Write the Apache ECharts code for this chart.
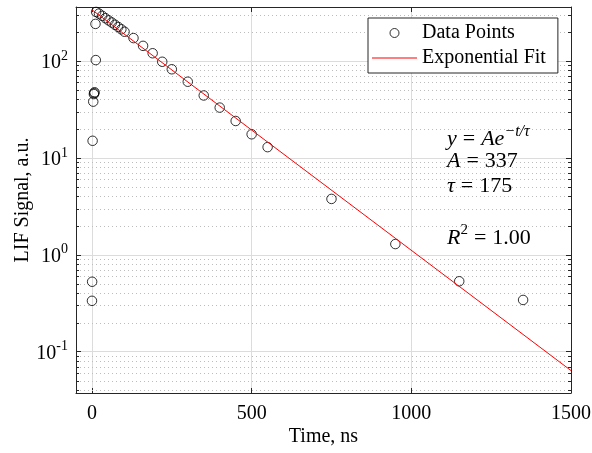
<!DOCTYPE html>
<html>
<head>
<meta charset="utf-8">
<script src="https://cdn.jsdelivr.net/npm/echarts@6/dist/echarts.min.js"></script>
<style>
html,body{margin:0;padding:0;background:#fff;}
#chart{width:592px;height:453px;}
</style>
</head>
<body>
<div id="chart"></div>
<script>
// ---- data ----
const timeNs = [0, 0.5, 2, 4, 6, 7, 8, 12, 11,
  13, 22, 32, 42, 52, 62, 72, 82, 92, 102,
  130, 160, 190, 220, 250, 300, 350, 400, 450, 500, 550, 750, 950, 1150, 1350];
const signal = [0.335, 0.527, 15, 38, 45.5, 46.5, 47.5, 102, 241,
  320, 308, 292, 276, 262, 249, 236, 224, 212, 200,
  172, 143, 120, 98, 82, 61, 44, 33, 24, 17.5, 12.9, 3.77, 1.29, 0.533, 0.342];
const fitT = [0, 1500];
const fitY = [337, 0.0639];
const minorTicks = [0.04, 0.05, 0.06, 0.07, 0.08, 0.09,
  0.2, 0.3, 0.4, 0.5, 0.6, 0.7, 0.8, 0.9,
  2, 3, 4, 5, 6, 7, 8, 9,
  20, 30, 40, 50, 60, 70, 80, 90,
  200, 300];
const xMin = -50, xMax = 1500;
const yMin = 0.0375, yMax = 360;
const seriesNames = ['Data Points', 'Exponential Fit'];
const xName = 'Time, ns';
const yName = 'LIF Signal, a.u.';

const FONT = 'Liberation Serif';
const AX = '#262626';

const chart = echarts.init(document.getElementById('chart'), null, {renderer: 'canvas'});

function powLabel(v) {
  const e = Math.log10(v);
  const r = Math.round(e);
  if (Math.abs(e - r) > 1e-6) return '';
  return '{b|10}{s|' + r + '}';
}

const italic = {fontFamily: FONT, fontSize: 22, fontStyle: 'italic', lineHeight: 26, verticalAlign: 'bottom'};
const roman = {fontFamily: FONT, fontSize: 22, lineHeight: 26, verticalAlign: 'bottom'};
const eq = {fontFamily: FONT, fontSize: 22, lineHeight: 26, verticalAlign: 'bottom', padding: [0, 6, 0, 6]};

const option = {
  animation: false,
  backgroundColor: '#fff',
  grid: {left: 76, top: 7, width: 495, height: 386, show: false, containLabel: false, outerBoundsMode: 'none'},
  legend: {
    left: 368, top: 18, orient: 'vertical',
    itemWidth: 45, itemHeight: 9, itemGap: 5,
    padding: [5, 12, 5, 4],
    borderColor: AX, borderWidth: 1, backgroundColor: '#fff',
    textStyle: {fontFamily: FONT, fontSize: 20, color: '#000'},
    data: [
      {name: seriesNames[0], icon: 'circle',
        itemStyle: {color: 'rgba(0,0,0,0)', borderColor: '#000', borderWidth: 1}},
      {name: seriesNames[1], icon: 'path://M0,0L45,0L45,1L0,1Z',
        itemStyle: {color: '#ff0000', borderWidth: 0}}
    ]
  },
  xAxis: [{
    type: 'value', min: xMin, max: xMax, splitNumber: 3,
    position: 'bottom',
    name: xName, nameLocation: 'middle', nameGap: 34, nameMoveOverlap: false,
    nameTextStyle: {fontFamily: FONT, fontSize: 20, color: '#000'},
    axisLine: {show: true, onZero: false, lineStyle: {color: AX, width: 1}},
    axisTick: {show: true, inside: true, length: 5, lineStyle: {color: AX}},
    axisLabel: {fontFamily: FONT, fontSize: 20, color: '#000', margin: 11, showMinLabel: false,
      formatter: v => String(v)},
    splitLine: {show: true, lineStyle: {color: '#dcdcdc', width: 1}}
  }, {
    type: 'value', min: xMin, max: xMax, splitNumber: 3,
    position: 'top',
    axisLine: {show: true, onZero: false, lineStyle: {color: AX, width: 1}},
    axisTick: {show: true, inside: true, length: 5, lineStyle: {color: AX}},
    axisLabel: {show: false},
    splitLine: {show: false}
  }],
  yAxis: [{
    type: 'log', logBase: 10, min: yMin, max: yMax,
    position: 'left',
    name: yName, nameLocation: 'middle', nameGap: 43, nameMoveOverlap: false,
    nameTextStyle: {fontFamily: FONT, fontSize: 20, color: '#000'},
    axisLine: {show: true, onZero: false, lineStyle: {color: AX, width: 1}},
    axisTick: {show: true, inside: true, length: 5, lineStyle: {color: AX}},
    axisLabel: {
      margin: 8, showMinLabel: false, showMaxLabel: false,
      formatter: powLabel,
      rich: {
        b: {fontFamily: FONT, fontSize: 20, color: '#000', lineHeight: 24, verticalAlign: 'bottom'},
        s: {fontFamily: FONT, fontSize: 14, color: '#000', lineHeight: 14, verticalAlign: 'top'}
      }
    },
    splitLine: {show: true, lineStyle: {color: '#dcdcdc', width: 1}}
  }, {
    type: 'log', logBase: 10, min: yMin, max: yMax,
    position: 'right',
    axisLine: {show: true, onZero: false, lineStyle: {color: AX, width: 1}},
    axisTick: {show: true, inside: true, length: 5, lineStyle: {color: AX}},
    axisLabel: {show: false},
    splitLine: {show: false}
  }],
  series: [{
    type: 'custom',
    name: 'minor',
    xAxisIndex: 0, yAxisIndex: 0,
    silent: true, z: 1,
    data: minorTicks.map(v => [0, v]),
    renderItem: function (params, api) {
      const cs = params.coordSys;
      const y = Math.round(api.coord([0, api.value(1)])[1]) + 0.5;
      const x0 = cs.x, x1 = cs.x + cs.width;
      return {
        type: 'group',
        children: [
          {type: 'line', shape: {x1: x0, y1: y, x2: x1, y2: y},
            style: {stroke: '#bdbdbd', lineWidth: 1, lineDash: [1, 3]}},
          {type: 'line', shape: {x1: x0, y1: y, x2: x0 + 3, y2: y},
            style: {stroke: AX, lineWidth: 1}},
          {type: 'line', shape: {x1: x1 - 3, y1: y, x2: x1, y2: y},
            style: {stroke: AX, lineWidth: 1}}
        ]
      };
    }
  }, {
    type: 'scatter',
    name: seriesNames[0],
    xAxisIndex: 0, yAxisIndex: 0,
    symbol: 'circle', symbolSize: 9.5, z: 3,
    itemStyle: {color: 'rgba(0,0,0,0)', borderColor: '#000', borderWidth: 1},
    data: timeNs.map((t, i) => [t, signal[i]])
  }, {
    type: 'line',
    name: seriesNames[1],
    xAxisIndex: 0, yAxisIndex: 0,
    symbol: 'none', showSymbol: false, z: 4,
    lineStyle: {color: '#ff0000', width: 1},
    itemStyle: {color: '#ff0000'},
    data: fitT.map((t, i) => [t, fitY[i]])
  }],
  graphic: [
    {type: 'text', left: 447, top: 124, z: 10,
      style: {text: '{i|y}{eq|=}{i|Ae}{s|−t/τ}', fill: '#000',
        rich: {
          i: italic, eq: eq,
          s: {fontFamily: FONT, fontSize: 16, fontStyle: 'italic', lineHeight: 14, verticalAlign: 'top'}
        }}},
    {type: 'text', left: 447, top: 150, z: 10,
      style: {text: '{i|A}{eq|=}{r|337}', fill: '#000',
        rich: {i: italic, eq: eq, r: roman}}},
    {type: 'text', left: 447, top: 175, z: 10,
      style: {text: '{i|τ}{eq|=}{r|175}', fill: '#000',
        rich: {i: italic, eq: eq, r: roman}}},
    {type: 'text', left: 447, top: 223, z: 10,
      style: {text: '{i|R}{s|2}{eq|=}{r|1.00}', fill: '#000',
        rich: {
          i: italic, eq: eq, r: roman,
          s: {fontFamily: FONT, fontSize: 15, lineHeight: 14, verticalAlign: 'top'}
        }}}
  ]
};
chart.setOption(option);
</script>
</body>
</html>
